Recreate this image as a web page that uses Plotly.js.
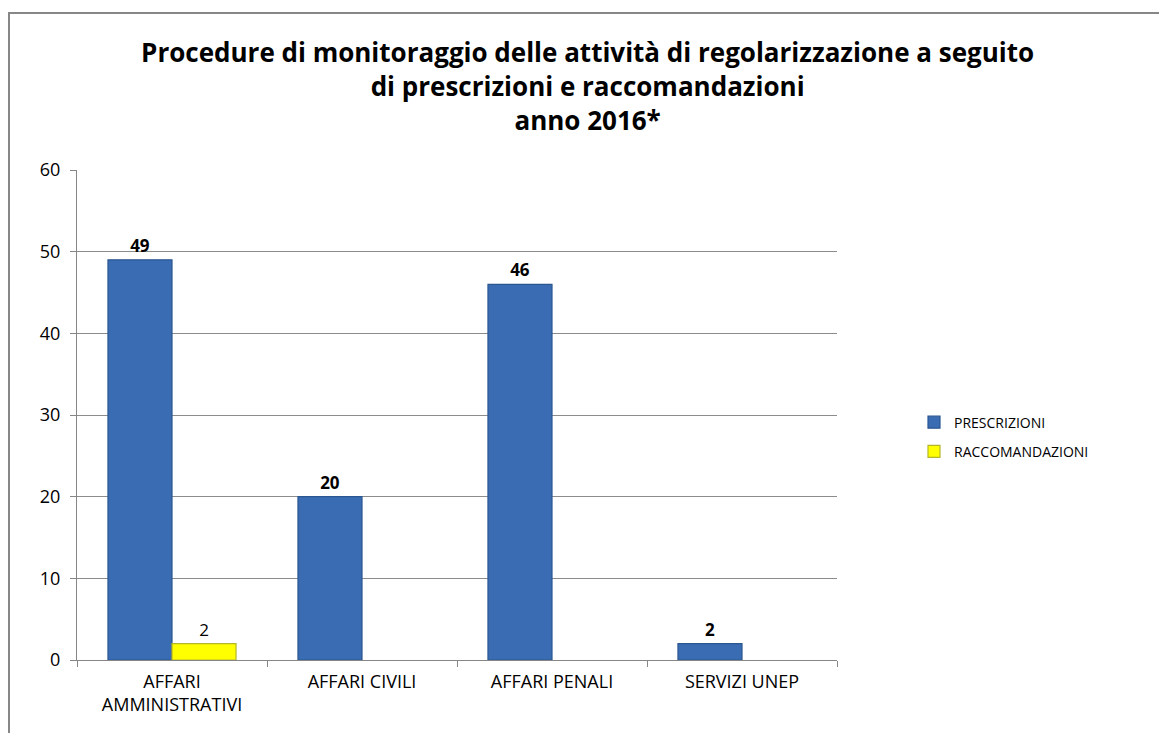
<!DOCTYPE html>
<html><head><meta charset="utf-8">
<script src="https://cdn.plot.ly/plotly-3.0.1.min.js"></script>
<style>
html,body{margin:0;padding:0;background:#fff;overflow:hidden;}
#frame{position:absolute;left:8px;top:12px;width:1160px;height:740px;border:2px solid #878787;box-sizing:border-box;pointer-events:none;z-index:5;}
#chart{position:absolute;left:0;top:0;width:1159px;height:733px;}
</style></head><body>
<div id="chart"></div><div id="frame"></div>
<script>
const categories = ["AFFARI<br>AMMINISTRATIVI", "AFFARI CIVILI", "AFFARI PENALI", "SERVIZI UNEP"];
const prescrizioni = [49, 20, 46, 2];
const raccomandazioni = [2, 0, 0, 0];
const yTicks = [0, 10, 20, 30, 40, 50, 60];

const font = "Open Sans, Noto Sans, sans-serif";
const traces = [
  {
    type: "bar", name: "PRESCRIZIONI", x: categories, y: prescrizioni,
    legendgroup: "a",
    marker: {color: "#3A6CB3", line: {color: "#2B5690", width: prescrizioni.map(v => v ? 1.2 : 0)}},
    text: prescrizioni.map(v => v ? "<b>" + v + "</b>" : ""),
    textposition: "outside", textfont: {family: font, size: 17, color: "#000"},
    cliponaxis: false, hoverinfo: "x+y"
  },
  {
    type: "bar", name: "RACCOMANDAZIONI", x: categories, y: raccomandazioni,
    legendgroup: "b",
    marker: {color: "#FFFF00", line: {color: "#B5B52A", width: raccomandazioni.map(v => v ? 1.2 : 0)}},
    text: raccomandazioni.map(v => v ? String(v) : ""),
    textposition: "outside", textfont: {family: font, size: 17, color: "#000"},
    cliponaxis: false, hoverinfo: "x+y"
  }
];

const layout = {
  width: 1159, height: 733,
  paper_bgcolor: "#fff", plot_bgcolor: "#fff",
  margin: {l: 77, r: 322, t: 170, b: 73},
  font: {family: font, color: "#000"},
  title: {
    text: "<b>Procedure di monitoraggio delle attività di regolarizzazione a seguito<br>di prescrizioni e raccomandazioni<br>anno 2016*</b>",
    font: {family: font, size: 26, color: "#000"},
    x: 0.507, xref: "container", xanchor: "center",
    y: 1 - 62/733, yref: "container", yanchor: "middle"
  },
  barmode: "group", bargap: 0.326, bargroupgap: 0,
  showlegend: true,
  legend: {
    x: (914 - 77) / 760, xanchor: "left", y: 0.455, yanchor: "middle",
    font: {family: font, size: 14, color: "#000"},
    traceorder: "grouped", tracegroupgap: 8,
    itemwidth: 30
  },
  xaxis: {
    type: "category", showline: true, linecolor: "#868686", linewidth: 1,
    ticks: "outside", tickson: "boundaries", ticklen: 6, tickcolor: "#868686",
    tickfont: {family: font, size: 18, color: "#000"}, ticklabelstandoff: 5,
    showgrid: false, zeroline: false, fixedrange: true
  },
  yaxis: {
    range: [0, 60], tickvals: yTicks, showline: true, linecolor: "#868686", linewidth: 1,
    ticks: "outside", ticklen: 6, tickcolor: "#868686",
    showgrid: true, gridcolor: "#8C8C8C", gridwidth: 1,
    tickfont: {family: font, size: 18, color: "#000"}, ticklabelstandoff: 6,
    zeroline: false, fixedrange: true
  }
};
Plotly.newPlot("chart", traces, layout, {displayModeBar: false, staticPlot: true});
</script>
</body></html>
